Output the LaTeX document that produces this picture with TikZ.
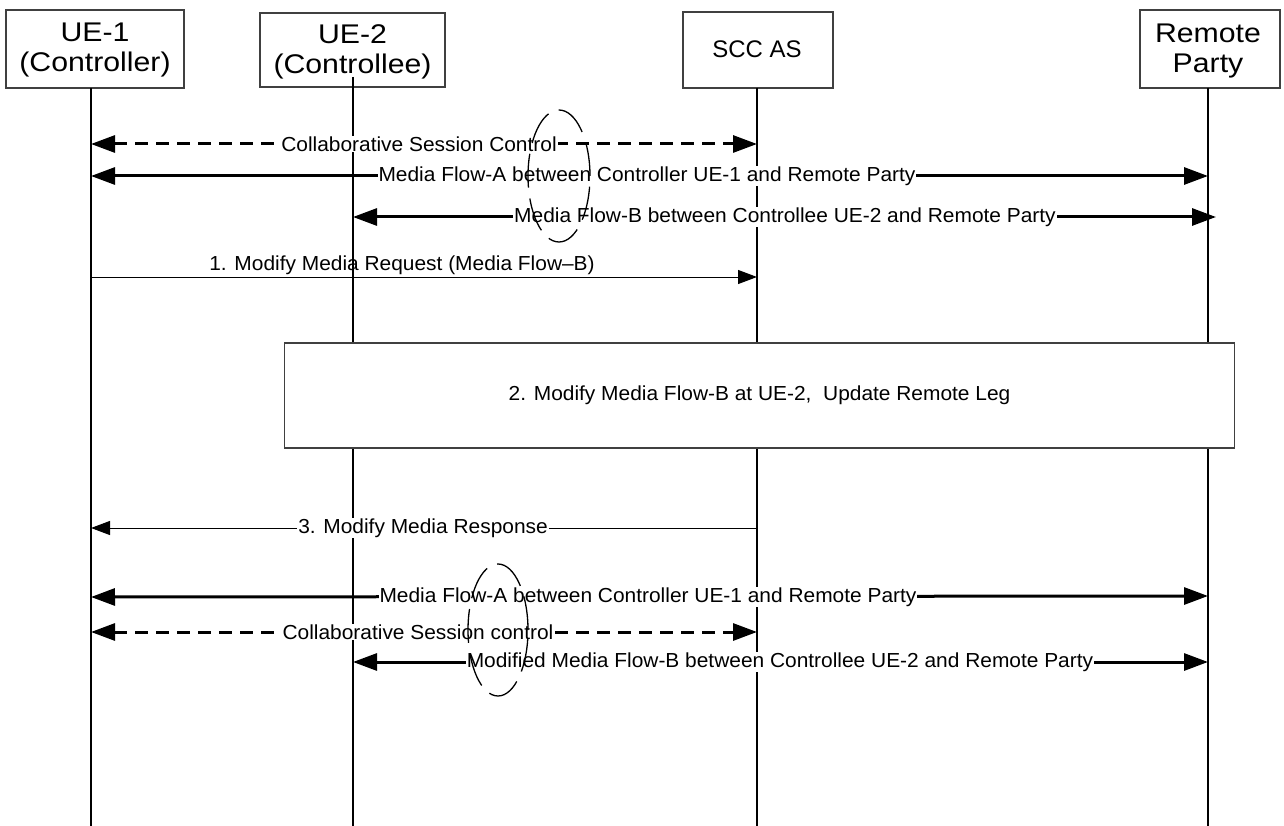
\documentclass[tikz,border=0pt]{standalone}
\usepackage{fontspec}
\setmainfont{Liberation Sans}
\newfontfamily\hdrfont[FakeStretch=1.12]{Liberation Sans}
\newfontfamily\msgfont[FakeStretch=1.03]{Liberation Sans}
\usetikzlibrary{arrows.meta}
\begin{document}
\begin{tikzpicture}[x=1pt,y=-1pt,
  entity/.style={draw=black!75, line width=1.2pt, fill=white, inner sep=0pt},
  entitytext/.style={inner sep=0pt, align=center, font=\hdrfont\fontsize{27}{30.5}\selectfont},
  lifeline/.style={line width=1.5pt, black},
  thickarrow/.style={line width=3pt, {Triangle[length=24pt,width=17pt]}-{Triangle[length=24pt,width=17pt]}},
  dasharrow/.style={thickarrow, dash pattern=on 13pt off 8pt},
  thinarrow/.style={line width=1pt, -{Triangle[length=19pt,width=14pt]}},
  lbl/.style={fill=white, inner sep=1pt, font=\msgfont\fontsize{20.3}{22}\selectfont},
  lblclear/.style={inner sep=1pt, font=\msgfont\fontsize{20.3}{22}\selectfont},
  procbox/.style={draw=black!75, line width=1.2pt, fill=white, inner sep=0pt,
    font=\msgfont\fontsize{20.3}{22}\selectfont},
  marker/.style={line width=1.3pt, dash pattern=on 34pt off 11pt}
]
\useasboundingbox (0,0) rectangle (1284,826);

% entities
\node[entity, minimum width=178pt, minimum height=78pt] (ue1) at (95,49) {};
\node[entitytext] (ue1t) at (95,50) {UE-1\\(Controller)};
\node[entity, minimum width=185pt, minimum height=74pt] (ue2) at (352.5,50) {};
\node[entitytext] (ue2t) at (352.5,52) {UE-2\\(Controllee)};
\node[entity, minimum width=150pt, minimum height=76pt] (scc) at (758,50) {};
\node[entitytext, font=\fontsize{24}{26}\selectfont] (scct) at (757,49) {SCC AS};
\node[entity, minimum width=140pt, minimum height=78pt] (rp) at (1210,49) {};
\node[entitytext] (rpt) at (1208,51) {Remote\\Party};

% lifelines
\coordinate (l1t) at (91,88);   \coordinate (l1b) at (91,826);
\coordinate (l2t) at (353,77);  \coordinate (l2b) at (353,826);
\coordinate (l3t) at (757,88);  \coordinate (l3b) at (757,826);
\coordinate (l4t) at (1208,88); \coordinate (l4b) at (1208,826);
\draw[lifeline] (l1t) -- (l1b);
\draw[lifeline] (l2t) -- (l2b);
\draw[lifeline] (l3t) -- (l3b);
\draw[lifeline] (l4t) -- (l4b);

% row coordinates
\coordinate (a1) at (91,144);  \coordinate (c1) at (757,144);
\coordinate (a2) at (91,176);  \coordinate (d2) at (1208,176);
\coordinate (b3) at (353,217); \coordinate (d3) at (1216,217);
\coordinate (a4) at (91,277);  \coordinate (c4) at (757,277);
\coordinate (a5) at (91,528);  \coordinate (c5) at (757,528);
\coordinate (a6) at (91,597);  \coordinate (d6) at (1208,596);
\coordinate (a7) at (91,632);  \coordinate (c7) at (757,632);
\coordinate (b8) at (353,662); \coordinate (d8) at (1208,662);

% arrows
\draw[dasharrow] (a1) -- (c1);
\draw[thickarrow] (a2) -- (d2);
\draw[thickarrow] (b3) -- (d3);
\draw[thinarrow] (a4) -- (c4);
\draw[thinarrow] (c5) -- (a5);
\draw[thickarrow] (a6) -- (d6);
\draw[dasharrow] (a7) -- (c7);
\draw[thickarrow] (b8) -- (d8);

% labels
\node[lbl] (t1) at (419,144) {Collaborative Session Control};
\node[lbl] (t2) at (647,176) {Media Flow-A between Controller UE-1 and Remote Party};
\node[lbl] (t3) at (785,217) {Media Flow-B between Controllee UE-2 and Remote Party};
\node[lblclear] (t4) at (402,265) {1. Modify Media Request (Media Flow–B)};
\node[lbl] (t5) at (423,528) {3. Modify Media Response};
\node[lbl] (t6) at (648,597) {Media Flow-A between Controller UE-1 and Remote Party};
\node[lbl] (t7) at (418,632) {Collaborative Session control};
\node[lbl] (t8) at (780,662) {Modified Media Flow-B between Controllee UE-2 and Remote Party};

% procedure box
\node[procbox, minimum width=950pt, minimum height=105pt] (proc) at (759.5,395.5)
  {2. Modify Media Flow-B at UE-2,\ \ Update Remote Leg};

% dashed ellipse markers
\draw[marker] (559,176) ellipse [x radius=31pt, y radius=66pt];
\draw[marker] (498,630) ellipse [x radius=30pt, y radius=66pt];
\end{tikzpicture}
\end{document}
